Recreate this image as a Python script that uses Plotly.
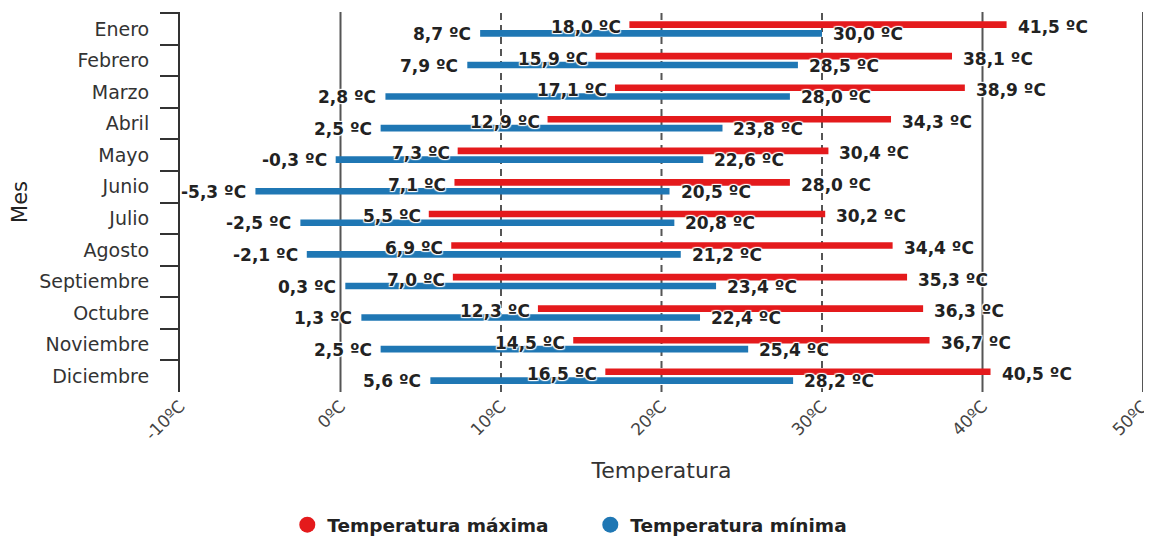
import plotly.graph_objects as go

meses = ["Enero", "Febrero", "Marzo", "Abril", "Mayo", "Junio", "Julio",
         "Agosto", "Septiembre", "Octubre", "Noviembre", "Diciembre"]
max_inicio = [18.0, 15.9, 17.1, 12.9, 7.3, 7.1, 5.5, 6.9, 7.0, 12.3, 14.5, 16.5]
max_fin = [41.5, 38.1, 38.9, 34.3, 30.4, 28.0, 30.2, 34.4, 35.3, 36.3, 36.7, 40.5]
min_inicio = [8.7, 7.9, 2.8, 2.5, -0.3, -5.3, -2.5, -2.1, 0.3, 1.3, 2.5, 5.6]
min_fin = [30.0, 28.5, 28.0, 23.8, 22.6, 20.5, 20.8, 21.2, 23.4, 22.4, 25.4, 28.2]
x_ticks = [-10, 0, 10, 20, 30, 40, 50]
x_ticktext = ["-10ºC", "0ºC", "10ºC", "20ºC", "30ºC", "40ºC", "50ºC"]

ROJO = "#E41A1C"
AZUL = "#1F77B4"
FONT = "DejaVu Sans"
TXT = "#2b2b2b"
HALO = "white 1px 1px 1px, white -1px -1px 1px, white 1px -1px 1px, white -1px 1px 1px"


def fmt(v):
    return f"{v:.1f}".replace(".", ",") + " ºC"


fig = go.Figure()
fig.add_trace(go.Bar(
    y=meses, x=[e - s for s, e in zip(max_inicio, max_fin)], base=max_inicio,
    orientation="h", width=0.21, offset=-0.245, marker=dict(color=ROJO, line=dict(width=0)),
    showlegend=False, hoverinfo="skip"))
fig.add_trace(go.Bar(
    y=meses, x=[e - s for s, e in zip(min_inicio, min_fin)], base=min_inicio,
    orientation="h", width=0.21, offset=0.035, marker=dict(color=AZUL, line=dict(width=0)),
    showlegend=False, hoverinfo="skip"))

# legend entries
fig.add_trace(go.Scatter(x=[None], y=[None], mode="markers", name="Temperatura máxima",
                         marker=dict(color=ROJO, size=20, symbol="circle")))
fig.add_trace(go.Scatter(x=[None], y=[None], mode="markers", name="Temperatura mínima",
                         marker=dict(color=AZUL, size=20, symbol="circle")))

annfont = dict(family=FONT, size=17, color="#222", weight="bold", shadow=HALO)
anns = []
for i, m in enumerate(meses):
    anns.append(dict(x=max_inicio[i], y=m, text=fmt(max_inicio[i]), xanchor="right",
                     xshift=-6, yshift=2, showarrow=False, font=annfont))
    anns.append(dict(x=max_fin[i], y=m, text=fmt(max_fin[i]), xanchor="left",
                     xshift=9, yshift=2, showarrow=False, font=annfont))
    anns.append(dict(x=min_inicio[i], y=m, text=fmt(min_inicio[i]), xanchor="right",
                     xshift=-7, yshift=-5, showarrow=False, font=annfont))
    anns.append(dict(x=min_fin[i], y=m, text=fmt(min_fin[i]), xanchor="left",
                     xshift=9, yshift=-5, showarrow=False, font=annfont))

shapes = []
for v in x_ticks[1:]:
    shapes.append(dict(type="line", xref="x", yref="paper", x0=v, x1=v, y0=0, y1=1,
                       layer="below",
                       line=dict(color="#555", width=2,
                                 dash="7px,5px" if v in (10, 20, 30) else "solid")))

# page body adds an 8px offset, so the figure is 8px smaller than the window
fig.update_layout(
    width=1144, height=532,
    margin=dict(l=172, r=9, t=4, b=148, autoexpand=False),
    plot_bgcolor="white", paper_bgcolor="white",
    barmode="overlay",
    font=dict(family=FONT, color=TXT),
    annotations=anns, shapes=shapes,
    legend=dict(orientation="h", xref="container", yref="container", x=0.509, y=0.028,
                xanchor="center", yanchor="middle", entrywidth=258,
                font=dict(family=FONT, size=18.5, color="#222", weight="bold")),
    xaxis=dict(range=[-10, 50], tickvals=x_ticks, ticktext=x_ticktext, tickangle=-45,
               showgrid=False, zeroline=False, showline=False, ticks="", automargin=False,
               tickfont=dict(size=17, color="#444"),
               title=dict(text="Temperatura", font=dict(size=22, color="#333"), standoff=19)),
    yaxis=dict(type="category", categoryorder="array", categoryarray=meses,
               autorange="reversed", tickson="boundaries", ticks="outside", ticklen=18,
               tickwidth=2, tickcolor="#333", showline=True, linecolor="#333", linewidth=2,
               showgrid=False, zeroline=False, automargin=False, ticklabelstandoff=25,
               tickfont=dict(size=19, color="#333"),
               title=dict(text="Mes", font=dict(size=21, color="#222"), standoff=6)),
)

fig.write_html("out.html")
